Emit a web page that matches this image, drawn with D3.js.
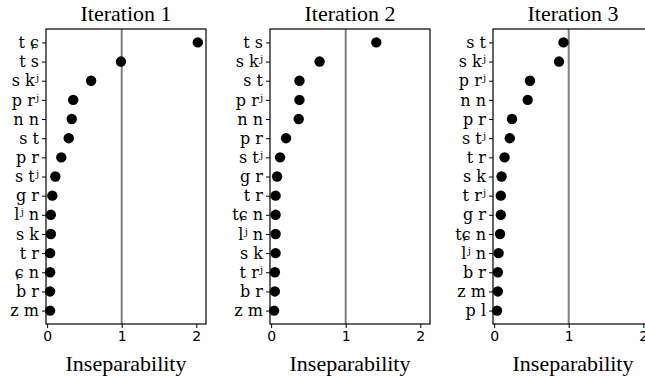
<!DOCTYPE html>
<html>
<head>
<meta charset="utf-8">
<script src="https://cdn.jsdelivr.net/npm/d3@7"></script>
<style>
  body { margin: 0; background: #fff; }
  svg { display: block; }
</style>
</head>
<body>
<div id="chart"></div>
<script>
// data, one array per panel (top row first)
const titles = ["Iteration 1", "Iteration 2", "Iteration 3"];

const labels1 = ["t ɕ", "t s", "s kʲ", "p rʲ", "n n", "s t", "p r", "s tʲ", "g r", "lʲ n", "s k", "t r", "ɕ n", "b r", "z m"];
const values1 = [2.02, 0.99, 0.59, 0.35, 0.33, 0.29, 0.19, 0.11, 0.07, 0.05, 0.05, 0.04, 0.04, 0.04, 0.04];

const labels2 = ["t s", "s kʲ", "s t", "p rʲ", "n n", "p r", "s tʲ", "g r", "t r", "tɕ n", "lʲ n", "s k", "t rʲ", "b r", "z m"];
const values2 = [1.41, 0.65, 0.38, 0.38, 0.37, 0.20, 0.12, 0.08, 0.06, 0.06, 0.06, 0.06, 0.05, 0.05, 0.04];

const labels3 = ["s t", "s kʲ", "p rʲ", "n n", "p r", "s tʲ", "t r", "s k", "t rʲ", "g r", "tɕ n", "lʲ n", "b r", "z m", "p l"];
const values3 = [0.93, 0.87, 0.48, 0.45, 0.24, 0.21, 0.14, 0.10, 0.09, 0.09, 0.08, 0.06, 0.05, 0.05, 0.04];

const xTicks = [0, 1, 2];
const refLine = 1;

const panels = [
    { labels: labels1, values: values1 },
    { labels: labels2, values: values2 },
    { labels: labels3, values: values3 }
];

const W = 645, H = 377;
const serif = "'Liberation Serif', 'DejaVu Serif', serif";
const labelFont = "'DejaVu Serif', serif";
const sans = "'DejaVu Sans', sans-serif";

const svg = d3.select("#chart").append("svg")
    .attr("width", W)
    .attr("height", H);

const panelW = 160, plotTop = 29, plotBottom = 324;
const lefts = [46, 270, 493];

panels.forEach((p, i) => {
    const g = svg.append("g").attr("transform", `translate(${lefts[i]},0)`);

    const x = d3.scaleLinear().domain([-0.015, 2.13]).range([0, panelW]);
    const y = d3.scalePoint().domain(p.labels).range([plotTop, plotBottom]).padding(0.7);

    // reference line at 1
    g.append("line")
        .attr("x1", x(refLine)).attr("x2", x(refLine))
        .attr("y1", plotTop).attr("y2", plotBottom)
        .attr("stroke", "#808080")
        .attr("stroke-width", 2);

    // dots
    g.selectAll("circle")
        .data(p.values)
        .join("circle")
        .attr("cx", d => x(d))
        .attr("cy", (d, j) => y(p.labels[j]))
        .attr("r", 5.2)
        .attr("fill", "#000");

    // frame
    g.append("rect")
        .attr("x", 0).attr("y", plotTop)
        .attr("width", panelW).attr("height", plotBottom - plotTop)
        .attr("fill", "none")
        .attr("stroke", "#000")
        .attr("stroke-width", 1.2);

    // x axis
    const xAxis = g.append("g")
        .attr("transform", `translate(0,${plotBottom})`)
        .call(d3.axisBottom(x).tickValues(xTicks).tickFormat(d3.format("d")).tickSize(4).tickPadding(3));
    xAxis.select(".domain").remove();
    xAxis.selectAll("text").attr("font-family", sans).attr("font-size", 14).attr("fill", "#000");

    // y axis
    const yAxis = g.append("g")
        .call(d3.axisLeft(y).tickSize(4).tickPadding(3));
    yAxis.select(".domain").remove();
    yAxis.selectAll("text")
        .attr("font-family", labelFont)
        .attr("font-size", 16)
        .attr("fill", "#000");

    // title
    g.append("text")
        .attr("x", panelW / 2)
        .attr("y", 21)
        .attr("text-anchor", "middle")
        .attr("font-family", serif)
        .attr("font-size", 22)
        .text(titles[i]);

    // x label
    g.append("text")
        .attr("x", panelW / 2)
        .attr("y", 371)
        .attr("text-anchor", "middle")
        .attr("font-family", serif)
        .attr("font-size", 22)
        .text("Inseparability");
});
</script>
</body>
</html>
